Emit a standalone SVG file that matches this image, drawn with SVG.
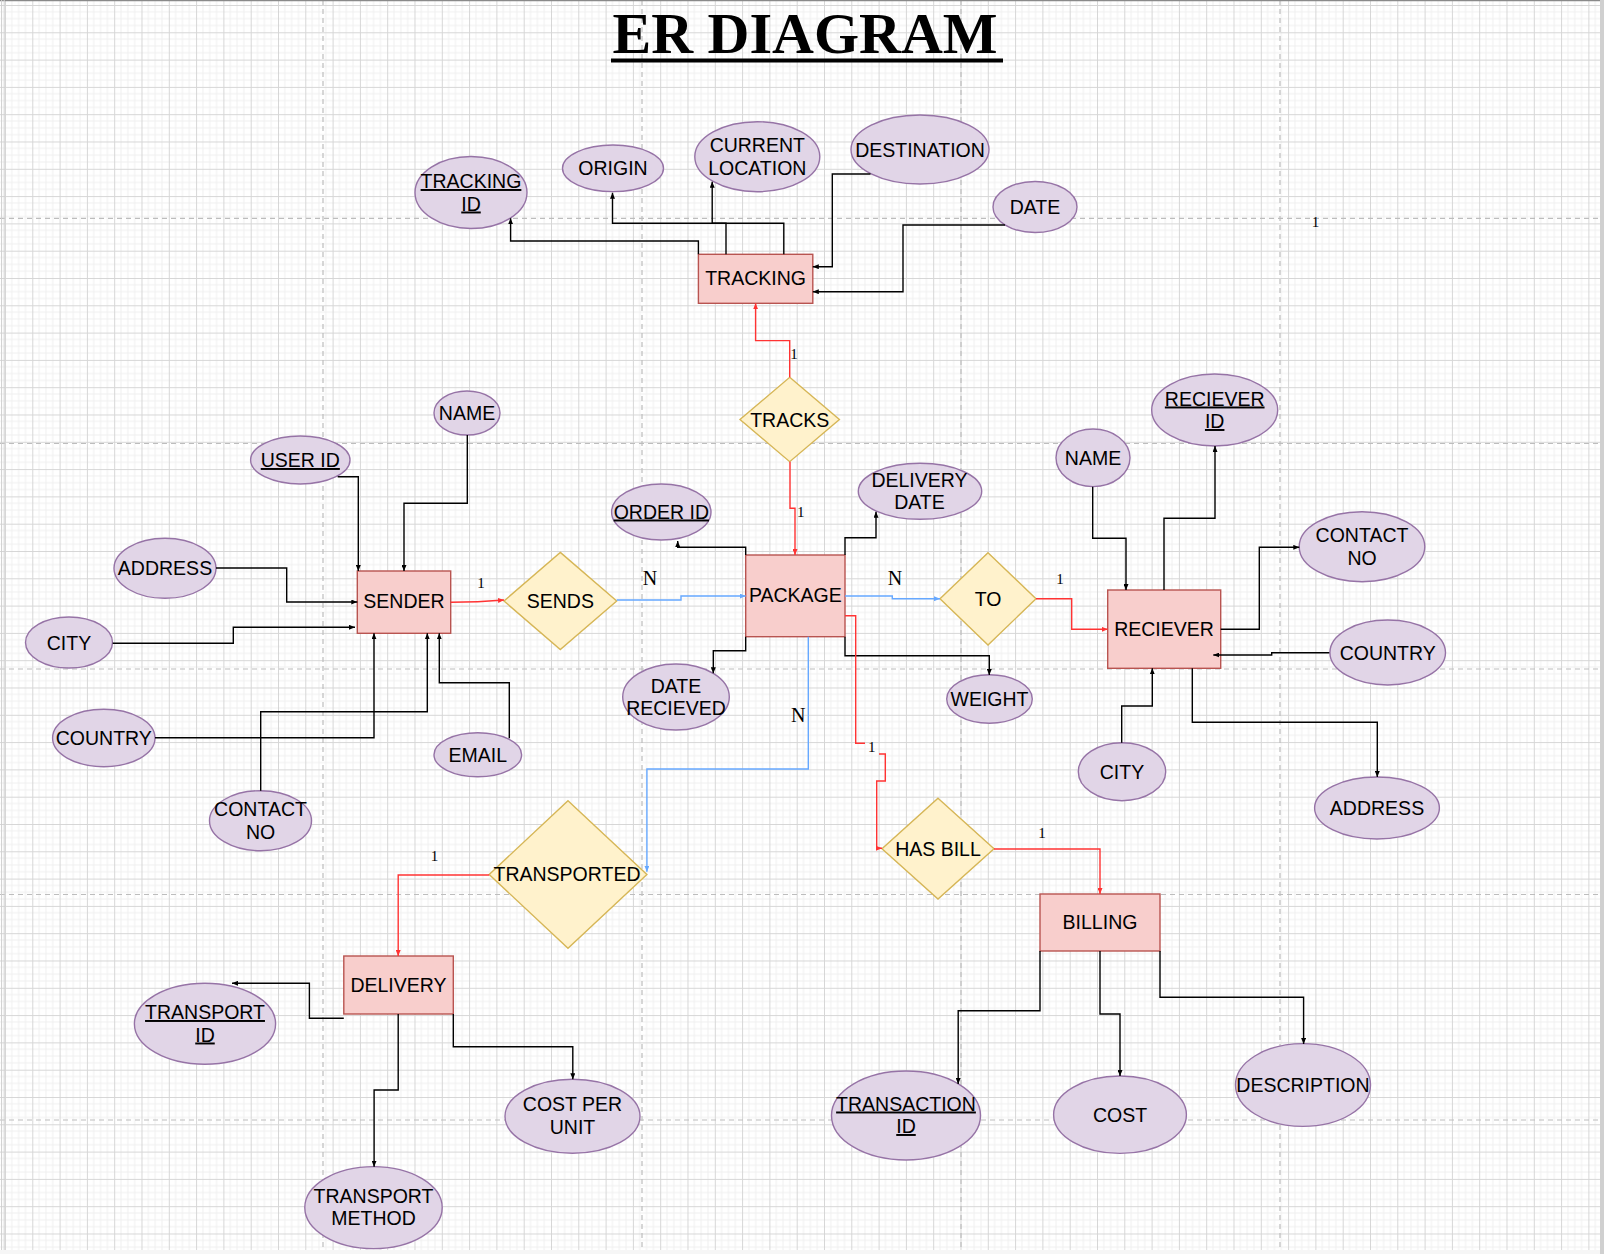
<svg xmlns="http://www.w3.org/2000/svg" width="1604" height="1254" viewBox="0 0 1604 1254">
<defs>
<pattern id="grid" x="5" y="5" width="27.3" height="27.3" patternUnits="userSpaceOnUse">
<path d="M6.825 0V27.3M13.65 0V27.3M20.475 0V27.3M0 6.825H27.3M0 13.65H27.3M0 20.475H27.3" stroke="#efefef" stroke-width="1" fill="none"/>
<path d="M0.5 0V27.3M0 0.5H27.3" stroke="#d6d6d6" stroke-width="1" fill="none"/>
</pattern>
<marker id="ak" viewBox="0 0 6 5" refX="6" refY="2.5" markerWidth="6" markerHeight="5" markerUnits="userSpaceOnUse" orient="auto"><path d="M0,0L6,2.5L0,5z" fill="#000"/></marker>
<marker id="ar" viewBox="0 0 6 5" refX="6" refY="2.5" markerWidth="6" markerHeight="5" markerUnits="userSpaceOnUse" orient="auto"><path d="M0,0L6,2.5L0,5z" fill="#ff3333"/></marker>
<marker id="ab" viewBox="0 0 6 5" refX="6" refY="2.5" markerWidth="6" markerHeight="5" markerUnits="userSpaceOnUse" orient="auto"><path d="M0,0L6,2.5L0,5z" fill="#66a8ff"/></marker>
<style>
.ent{fill:#f8cecc;stroke:#b85450;stroke-width:1.4}
.rel{fill:#fff2cc;stroke:#d6b656;stroke-width:1.4}
.att{fill:#e1d5e7;stroke:#9673a6;stroke-width:1.4}
.t{font-family:"Liberation Sans",Arial,Helvetica,sans-serif;font-size:19.5px;text-anchor:middle;fill:#000}
.u{text-decoration:underline}
.k{fill:none;stroke:#000;stroke-width:1.4;marker-end:url(#ak)}
.r{fill:none;stroke:#ff3333;stroke-width:1.4}
.ra{marker-end:url(#ar)}
.b{fill:none;stroke:#66a8ff;stroke-width:1.4;marker-end:url(#ab)}
.c{font-family:"Liberation Serif","Times New Roman",serif;text-anchor:middle;fill:#000}
.pb{stroke:#bdbdbd;stroke-width:1.2;stroke-dasharray:5 4;fill:none}
</style>
</defs>
<g id="background">
<rect x="0" y="0" width="1604" height="1254" fill="#f6f6f6"/>
<rect x="0" y="0" width="1600" height="1250" fill="#ffffff"/>
<rect x="0" y="0" width="1600" height="1250" fill="url(#grid)"/>
<path class="pb" d="M323 0V1250M642 0V1250M961 0V1250M1280 0V1250M0 218.3H1600M0 443.5H1600M0 669H1600M0 894.5H1600M0 1120H1600"/>
<rect x="1600" y="0" width="4" height="1254" fill="#d0d0d0"/>
<path d="M0 0.6H1600" stroke="#8a8a8a" stroke-width="1.2"/>
<path d="M1.6 0V1250M4.2 0V1250" stroke="#cfcfcf" stroke-width="1"/>
</g>
<g id="title">
<text x="805" y="52.7" font-family="Liberation Serif,'Times New Roman',serif" font-weight="bold" font-size="58" text-anchor="middle">ER DIAGRAM</text>
<rect x="611" y="58.5" width="392" height="4" fill="#000"/>
</g>
<g id="tracking"><rect class="ent" x="698.4" y="254.3" width="114.4" height="49"/><text class="t" x="755.6" y="285">TRACKING</text></g>
<g id="sender"><rect class="ent" x="357.3" y="571" width="93.4" height="62.3"/><text class="t" x="404" y="608.4">SENDER</text></g>
<g id="package"><rect class="ent" x="745.7" y="555" width="99.3" height="81.7"/><text class="t" x="795.3" y="601.7">PACKAGE</text></g>
<g id="reciever"><rect class="ent" x="1107.7" y="590" width="113" height="78.3"/><text class="t" x="1164" y="636">RECIEVER</text></g>
<g id="delivery"><rect class="ent" x="343.8" y="956" width="109.5" height="58"/><text class="t" x="398.5" y="991.7">DELIVERY</text></g>
<g id="billing"><rect class="ent" x="1040" y="894" width="120" height="57"/><text class="t" x="1100" y="929">BILLING</text></g>
<g id="tracks"><path class="rel" d="M789.7,377.3L839.4,419.5L789.7,461.7L740,419.5Z"/><text class="t" x="789.7" y="426.7">TRACKS</text></g>
<g id="sends"><path class="rel" d="M560.3,552.4L616.7,601L560.3,649.6L504,601Z"/><text class="t" x="560.3" y="608">SENDS</text></g>
<g id="to"><path class="rel" d="M988,552.7L1036,598.8L988,645L940,598.8Z"/><text class="t" x="988" y="605.5">TO</text></g>
<g id="has-bill"><path class="rel" d="M938,798.3L994,848.7L938,899L882,848.7Z"/><text class="t" x="938" y="855.7">HAS BILL</text></g>
<g id="transported"><path class="rel" d="M568,800.7L646.9,874.5L568,948.3L489.2,874.5Z"/><text class="t" x="567" y="881">TRANSPORTED</text></g>
<g id="tracking-id"><ellipse class="att" cx="471" cy="192.5" rx="56" ry="36"/><text class="t u" x="471" y="188">TRACKING</text><text class="t u" x="471" y="210.5">ID</text></g>
<g id="origin"><ellipse class="att" cx="613" cy="168.3" rx="50.5" ry="23.3"/><text class="t" x="613" y="175.3">ORIGIN</text></g>
<g id="current-location"><ellipse class="att" cx="757.3" cy="156.7" rx="62.5" ry="35"/><text class="t" x="757.3" y="152.2">CURRENT</text><text class="t" x="757.3" y="174.7">LOCATION</text></g>
<g id="destination"><ellipse class="att" cx="920" cy="149.5" rx="69" ry="34.5"/><text class="t" x="920" y="156.5">DESTINATION</text></g>
<g id="date"><ellipse class="att" cx="1035" cy="207" rx="42" ry="25.5"/><text class="t" x="1035" y="214">DATE</text></g>
<g id="sender-name"><ellipse class="att" cx="467" cy="413" rx="33" ry="22"/><text class="t" x="467" y="420">NAME</text></g>
<g id="user-id"><ellipse class="att" cx="300.3" cy="460" rx="49.7" ry="24"/><text class="t u" x="300.3" y="467">USER ID</text></g>
<g id="sender-address"><ellipse class="att" cx="165" cy="568.3" rx="51" ry="30"/><text class="t" x="165" y="575.3">ADDRESS</text></g>
<g id="sender-city"><ellipse class="att" cx="69" cy="642.5" rx="43.5" ry="25.5"/><text class="t" x="69" y="649.5">CITY</text></g>
<g id="sender-country"><ellipse class="att" cx="103.8" cy="738" rx="51.2" ry="28.7"/><text class="t" x="103.8" y="745">COUNTRY</text></g>
<g id="email"><ellipse class="att" cx="477.8" cy="754.7" rx="43.8" ry="22"/><text class="t" x="477.8" y="761.7">EMAIL</text></g>
<g id="sender-contact"><ellipse class="att" cx="260.5" cy="820.7" rx="51" ry="30"/><text class="t" x="260.5" y="815.5">CONTACT</text><text class="t" x="260.5" y="838.5">NO</text></g>
<g id="order-id"><ellipse class="att" cx="661.3" cy="512" rx="49.7" ry="28"/><text class="t u" x="661.3" y="518.5">ORDER ID</text></g>
<g id="delivery-date"><ellipse class="att" cx="920" cy="491.3" rx="61.7" ry="28"/><text class="t" x="919.5" y="486.8">DELIVERY</text><text class="t" x="919.5" y="509.3">DATE</text></g>
<g id="date-recieved"><ellipse class="att" cx="676" cy="697" rx="53.3" ry="33"/><text class="t" x="676" y="692.5">DATE</text><text class="t" x="676" y="715">RECIEVED</text></g>
<g id="weight"><ellipse class="att" cx="989.5" cy="699" rx="42.8" ry="24.2"/><text class="t" x="989.5" y="706">WEIGHT</text></g>
<g id="reciever-id"><ellipse class="att" cx="1214.7" cy="410" rx="63" ry="36"/><text class="t u" x="1214.7" y="405.5">RECIEVER</text><text class="t u" x="1214.7" y="428">ID</text></g>
<g id="reciever-name"><ellipse class="att" cx="1093" cy="457.8" rx="37" ry="28.8"/><text class="t" x="1093" y="464.8">NAME</text></g>
<g id="reciever-contact"><ellipse class="att" cx="1362" cy="546.7" rx="62.8" ry="35"/><text class="t" x="1362" y="542">CONTACT</text><text class="t" x="1362" y="564.5">NO</text></g>
<g id="reciever-country"><ellipse class="att" cx="1387.7" cy="652.5" rx="57.8" ry="32.5"/><text class="t" x="1387.7" y="659.5">COUNTRY</text></g>
<g id="reciever-city"><ellipse class="att" cx="1122" cy="771.7" rx="43.7" ry="29"/><text class="t" x="1122" y="778.7">CITY</text></g>
<g id="reciever-address"><ellipse class="att" cx="1377" cy="808" rx="62.4" ry="31"/><text class="t" x="1377" y="815">ADDRESS</text></g>
<g id="transport-id"><ellipse class="att" cx="205" cy="1023.8" rx="70.6" ry="40.5"/><text class="t u" x="205" y="1019">TRANSPORT</text><text class="t u" x="205" y="1041.5">ID</text></g>
<g id="transport-method"><ellipse class="att" cx="373.5" cy="1207.6" rx="68.7" ry="41"/><text class="t" x="373.5" y="1202.8">TRANSPORT</text><text class="t" x="373.5" y="1225.3">METHOD</text></g>
<g id="cost-per-unit"><ellipse class="att" cx="572.5" cy="1116.3" rx="67.5" ry="37"/><text class="t" x="572.5" y="1110.7">COST PER</text><text class="t" x="572.5" y="1133.5">UNIT</text></g>
<g id="transaction-id"><ellipse class="att" cx="906" cy="1115.5" rx="74.5" ry="44.5"/><text class="t u" x="906" y="1110.5">TRANSACTION</text><text class="t u" x="906" y="1133">ID</text></g>
<g id="cost"><ellipse class="att" cx="1120" cy="1114.7" rx="66.4" ry="38.7"/><text class="t" x="1120" y="1121.7">COST</text></g>
<g id="description"><ellipse class="att" cx="1303" cy="1085" rx="67.5" ry="41.4"/><text class="t" x="1303" y="1092">DESCRIPTION</text></g>
<g id="connectors">
<path class="k" d="M698.4,254.3V241H510.6V218.3"/>
<path class="k" d="M726,254.3V223.3H612.5V192.7"/>
<path class="k" d="M783.8,254.3V223.3H712.2V181.7"/>
<path class="k" d="M870.5,174H832.3V266.7H812.8"/>
<path class="k" d="M1005,225H903V291.7H812.8"/>
<path class="r ra" d="M789.7,377.3V340.6H755.6V303.3"/>
<path class="r ra" d="M790,461.7V508.3H795V555"/>
<path class="k" d="M337.7,476.7H358.3V571"/>
<path class="k" d="M467.3,435V503.3H404V571"/>
<path class="k" d="M216,568H286.7V602H357.3"/>
<path class="k" d="M112.7,643.3H233.3V627.3H355"/>
<path class="k" d="M155,737.7H374V633.3"/>
<path class="k" d="M260.7,790.7V711.7H427.3V633.3"/>
<path class="k" d="M509.3,738.3V682.7H439.3V633.3"/>
<path class="r ra" d="M450.7,602.3Q478,602.3 504,600"/>
<path class="b" d="M616.7,600H681V596H745.7"/>
<path class="b" d="M845,596H892.3V598.7H940"/>
<path class="r ra" d="M1036,598.8H1071.7V629.3H1107.7"/>
<path class="k" d="M745.7,555V547.3H677.7V541"/>
<path class="k" d="M845,555V537.7H876V511.7"/>
<path class="k" d="M745.7,636.7V650.7H713.3V673.3"/>
<path class="k" d="M845,636.7V655.7H989.3V675"/>
<path class="b" d="M808.3,636.7V769H646.9V871.7"/>
<path class="r" d="M845,615.7H855.7V743.3H865"/>
<path class="r ra" d="M879,754H885.3V781H876.7V848.3H882"/>
<path class="k" d="M1092.7,486.7V538.3H1126V590"/>
<path class="k" d="M1164,590V518.3H1215V446"/>
<path class="k" d="M1220.7,629.3H1259.3V547.3H1299.3"/>
<path class="k" d="M1329.3,652.7H1271.7V655H1213.3"/>
<path class="k" d="M1121.7,742.7V706H1152.3V668.3"/>
<path class="k" d="M1192.3,668.3V722.3H1377.3V777"/>
<path class="r ra" d="M489.2,875H398.2V956"/>
<path class="k" d="M343.8,1018.3H309.4V983.3H232"/>
<path class="k" d="M398.2,1014V1090H374.1V1166.7"/>
<path class="k" d="M453.3,1014V1046.7H572.8V1079.3"/>
<path class="r ra" d="M994,849H1100V894"/>
<path class="k" d="M1040,951V1010.7H958.2V1084"/>
<path class="k" d="M1100,951V1014H1120V1076"/>
<path class="k" d="M1160,951V997.3H1303.6V1044"/>
</g>
<g id="cardinalities">
<text class="c" font-size="15" x="794" y="359">1</text>
<text class="c" font-size="15" x="800.7" y="516.7">1</text>
<text class="c" font-size="15" x="481" y="587.7">1</text>
<text class="c" font-size="20" x="650" y="585.3">N</text>
<text class="c" font-size="20" x="895" y="585.3">N</text>
<text class="c" font-size="15" x="1060" y="584">1</text>
<text class="c" font-size="20" x="798.3" y="722">N</text>
<text class="c" font-size="15" x="871.7" y="751.7">1</text>
<text class="c" font-size="15" x="1042" y="837.7">1</text>
<text class="c" font-size="15" x="434.4" y="861">1</text>
<text class="c" font-size="15" x="1315.6" y="227">1</text>
</g>
</svg>
